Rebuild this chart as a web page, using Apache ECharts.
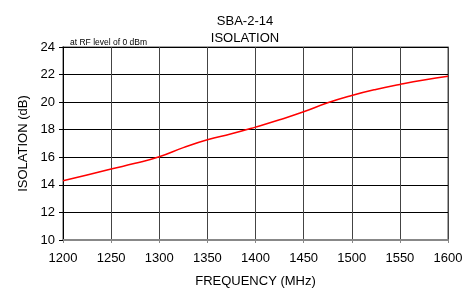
<!DOCTYPE html>
<html>
  <head>
    <meta charset="utf-8">
    <title>SBA-2-14 Isolation</title>
  </head>
  <body style="margin: 0">
    <div id="container" style="width: 465px; height: 290px;"></div>
    <script type="text/javascript" src="https://cdn.jsdelivr.net/npm/echarts@6/dist/echarts.min.js"></script>
    <script type="text/javascript">
      var freq = [1200, 1225, 1250, 1275, 1300, 1325, 1350, 1375, 1400, 1425, 1450, 1475, 1500, 1525, 1550, 1575, 1600];
      var isolation = [14.3, 14.71, 15.15, 15.56, 16.04, 16.7, 17.27, 17.7, 18.19, 18.72, 19.3, 19.95, 20.48, 20.92, 21.28, 21.6, 21.87];
      var xTicks = [1200, 1250, 1300, 1350, 1400, 1450, 1500, 1550, 1600];
      var yTicks = [10, 12, 14, 16, 18, 20, 22, 24];

      var myChart = echarts.init(document.getElementById('container'));
      var font = 'Liberation Sans, Arial, sans-serif';

      var points = [];
      for (var i = 0; i < freq.length; i++) {
        points.push([freq[i], isolation[i]]);
      }

      var option = {
        animation: false,
        backgroundColor: '#fff',
        textStyle: {fontFamily: font},
        title: [
          {
            text: 'SBA-2-14\nISOLATION',
            left: 240, top: 8, textAlign: 'center',
            textStyle: {fontSize: 13, fontWeight: 'normal', color: '#000', lineHeight: 17, fontFamily: font}
          },
          {
            text: 'at RF level of 0 dBm',
            left: 65, top: 33,
            textStyle: {fontSize: 8.5, fontWeight: 'normal', color: '#000', fontFamily: font}
          }
        ],
        grid: {
          left: 63, right: 17, top: 47, bottom: 50,
          outerBoundsMode: 'none',
          show: true, borderColor: '#888', borderWidth: 1.5
        },
        xAxis: {
          type: 'value',
          min: xTicks[0], max: xTicks[xTicks.length - 1], interval: 50,
          name: 'FREQUENCY (MHz)', nameLocation: 'middle', nameGap: 35,
          nameTextStyle: {fontSize: 13, color: '#000', fontFamily: font},
          axisLine: {show: true, lineStyle: {color: '#888', width: 2}},
          axisTick: {show: true, length: 3, lineStyle: {color: '#888'}},
          axisLabel: {fontSize: 13, color: '#000', margin: 12, fontFamily: font,
            formatter: function (v) { return String(v); }},
          splitLine: {show: true, lineStyle: {color: '#444', width: 1}}
        },
        yAxis: {
          type: 'value',
          min: yTicks[0], max: yTicks[yTicks.length - 1], interval: 2,
          name: 'ISOLATION (dB)', nameLocation: 'middle', nameGap: 31,
          nameTextStyle: {fontSize: 13, color: '#000', fontFamily: font},
          axisLine: {show: true, lineStyle: {color: '#000', width: 1}},
          axisTick: {show: true, length: 4, lineStyle: {color: '#000'}},
          axisLabel: {fontSize: 13, color: '#000', margin: 8, fontFamily: font},
          splitLine: {show: true, lineStyle: {color: '#000', width: 1}}
        },
        series: [
          {
            type: 'line',
            data: points,
            smooth: true,
            symbol: 'none',
            lineStyle: {color: '#f00', width: 1.5}
          }
        ]
      };

      myChart.setOption(option);
    </script>
  </body>
</html>
